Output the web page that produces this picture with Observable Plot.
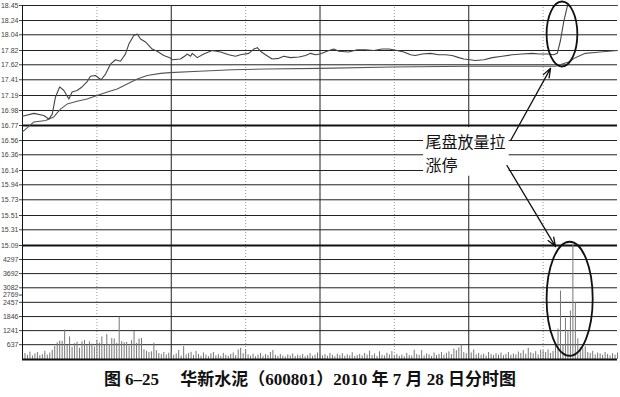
<!DOCTYPE html>
<html><head><meta charset="utf-8">
<script src="https://cdn.jsdelivr.net/npm/d3@7"></script>
<script src="https://cdn.jsdelivr.net/npm/@observablehq/plot@0.6"></script>
<style>
body{margin:0;background:#fff;}
#wrap{position:relative;width:620px;height:362px;}
#wrap svg{position:absolute;left:0;top:0;}
#cap{width:620px;height:35px;text-align:center;font-weight:bold;font-size:17px;font-family:"Liberation Serif","Noto Sans CJK SC",serif;line-height:36px;color:#111;white-space:pre;}
</style></head>
<body>
<div id="wrap"></div>
<div id="cap">图 6–25　 华新水泥（600801）2010 年 7 月 28 日分时图</div>
<script>
// ---- data ----
const priceMinutes = [0,4.6,8.6,10.6,12,13.3,15,16.7,18.7,20,22,24,26,27.4,29.4,31.7,33.5,35.5,37.5,39.5,41.5,42.9,44.9,46.3,47.6,49.6,52.3,54.3,57,59.4,60.4,63.7,65.8,66.4,67.8,68.5,70.5,73.1,76.5,79.9,83.2,85.9,87.9,91.3,93.3,94.7,96,98,100.7,103.4,105.4,108.1,111.5,114.2,116.2,118.2,120,123.6,125.6,127.6,131.6,135,138.4,141.7,145.1,147.8,151.1,153.8,156.5,158.5,161.2,164.6,167.9,170.6,173.3,176,178,180.4,182.7,186.1,189.5,193.5,197.5,201.6,205.6,208.3,211.7,214.3,215.7,217,218.3,219.7,220.2,230,240];
const priceValues = [16.90,16.94,16.91,16.86,16.93,17.17,17.31,17.26,17.14,17.24,17.26,17.31,17.38,17.46,17.47,17.41,17.49,17.63,17.69,17.67,17.77,17.91,18.03,18.05,17.98,17.94,17.84,17.81,17.75,17.72,17.69,17.70,17.75,17.77,17.74,17.78,17.72,17.77,17.82,17.80,17.76,17.74,17.76,17.78,17.84,17.86,17.81,17.76,17.70,17.71,17.74,17.72,17.73,17.75,17.78,17.76,17.77,17.82,17.84,17.81,17.80,17.83,17.83,17.82,17.84,17.84,17.82,17.80,17.76,17.75,17.77,17.78,17.76,17.76,17.75,17.72,17.70,17.69,17.68,17.69,17.72,17.74,17.76,17.77,17.78,17.77,17.77,17.76,17.78,17.96,18.22,18.43,18.45,18.45,18.45];
const avgMinutes = [0,4.6,9.3,12.6,15.3,18,22,26,30.1,34.2,38.2,42.2,46.3,50.3,55.7,59.4,71.1,84.6,98,119.9,149.1,180.3,215,217.7,220.3,223,227,233,240];
const avgValues = [16.68,16.82,16.84,16.89,17.00,17.07,17.11,17.14,17.19,17.24,17.28,17.35,17.42,17.47,17.50,17.51,17.53,17.55,17.56,17.57,17.59,17.60,17.60,17.63,17.66,17.72,17.78,17.80,17.82];
const volumes = [
 850,
 260,180,320,150,240,300,170,210,350,190,
 280,400,560,720,790,780,1270,600,970,520,
 680,740,480,760,820,590,760,660,540,830,
 700,970,620,1070,640,900,880,690,1820,770,
 720,730,580,810,1210,690,880,900,420,360,
 300,330,700,380,260,210,300,190,270,330,
 180,240,390,150,560,200,260,310,170,350,
 220,140,280,190,120,240,300,160,210,130,
 260,180,140,220,280,170,410,480,250,420,
 200,150,230,120,190,260,140,210,170,300,
 390,180,130,220,150,110,200,160,240,130,
 190,150,220,120,170,250,140,190,280,230,
 160,210,140,260,180,120,230,170,250,140,
 200,160,290,130,180,220,150,260,190,360,
 170,240,130,330,180,150,270,200,340,160,
 220,140,190,120,260,170,150,400,210,180,
 380,150,240,200,130,280,170,220,300,190,
 260,330,210,450,380,500,620,300,250,400,
 280,410,200,260,180,230,150,300,210,170,
 250,190,280,160,220,300,180,240,200,320,
 260,380,230,480,290,250,340,200,400,380,
 300,410,260,350,600,1310,2940,650,1770,1180,
 2090,4900,2440,890,520,460,550,300,260,350,
 200,280,240,180,300,220,160,250,190,280
];
const priceTicks = [18.45,18.24,18.04,17.82,17.62,17.41,17.19,16.98,16.77,16.56,16.36,16.14,15.94,15.73,15.51,15.31,15.09];
const volumeTicks = [4297,3692,3082,2769,2457,1846,1241,637];
const volumeGrid = [4297,3692,3082,2457,1846,1241,637];
const solidMinutes = [60,120,180];
const dottedMinutes = [30,90,150,210];
const noteLines = ["尾盘放量拉","涨停"];

// ---- tables ----
const price = priceMinutes.map((m,i)=>({m, p: priceValues[i]}));
const avg = avgMinutes.map((m,i)=>({m, p: avgValues[i]}));
const vol = volumes.map((v,i)=>({m: i, v}));
const notes = [{m:162.6, p:16.52, t:noteLines[0]},{m:162.6, p:16.21, t:noteLines[1]}];
const noteBox = [{x1:161.8, x2:196.3, y1:16.06, y2:16.74}];
const priceArrows = [
  {x1:196.9, y1:16.56, x2:213.0, y2:17.57},
  {x1:195.4, y1:16.21, x2:215.0, y2:15.075}
];

function ellipse(cx, cy, rx, ry){
  return (index, scales) => {
    const {x, y} = scales;
    const el = document.createElementNS("http://www.w3.org/2000/svg","ellipse");
    el.setAttribute("cx", x(cx));
    el.setAttribute("cy", y(cy));
    el.setAttribute("rx", Math.abs(x(cx+rx)-x(cx)));
    el.setAttribute("ry", Math.abs(y(cy+ry)-y(cy)));
    el.setAttribute("fill","none");
    el.setAttribute("stroke","#111");
    el.setAttribute("stroke-width","1.8");
    return el;
  };
}

const common = {
  width: 620, height: 362, marginLeft: 22, marginRight: 3,
  x: {domain: [0, 240], axis: null}
};

const pricePlot = Plot.plot({
  ...common, marginTop: 5, marginBottom: 117,
  style: {background: "white", overflow: "visible", fontSize: "7px", fontFamily: "Liberation Sans", color: "#444"},
  y: {domain: [15.09, 18.45], ticks: priceTicks, tickFormat: d => d.toFixed(2), tickSize: 3, tickPadding: 1, label: null},
  marks: [
    Plot.ruleX(dottedMinutes, {y1: 15.09, y2: 18.45, stroke: "#9a9a9a", strokeDasharray: "1,2"}),
    Plot.ruleX(solidMinutes, {y1: 15.09, y2: 18.45, stroke: "#222"}),
    Plot.ruleY(priceTicks.filter(d => d !== 16.77 && d !== 15.09), {stroke: "#222"}),
    Plot.ruleY([16.77, 15.09], {stroke: "#111", strokeWidth: 2}),
    Plot.ruleX([0], {y1: 15.09, y2: 18.45, stroke: "#111"}),
    Plot.line(avg, {x: "m", y: "p", stroke: "#555", strokeWidth: 1.1}),
    Plot.line(price, {x: "m", y: "p", stroke: "#444", strokeWidth: 1.1}),
    Plot.rect(noteBox, {x1: "x1", x2: "x2", y1: "y1", y2: "y2", fill: "white"}),
    Plot.text(notes, {x: "m", y: "p", text: "t", textAnchor: "start", fontSize: 16, fontFamily: "Noto Sans CJK SC", fill: "#111"}),
    Plot.arrow(priceArrows, {x1: "x1", y1: "y1", x2: "x2", y2: "y2", stroke: "#111", strokeWidth: 1.3, headLength: 11, headAngle: 40, bend: 0}),
    ellipse(217.8, 18.044, 6.2, 0.455)
  ]
});

const volumePlot = Plot.plot({
  ...common, marginTop: 245, marginBottom: 3,
  style: {background: "transparent", fontSize: "7px", fontFamily: "Liberation Sans", color: "#444"},
  y: {domain: [0, 4900], ticks: volumeTicks, tickFormat: d => String(d), tickSize: 3, tickPadding: 1, label: null},
  marks: [
    Plot.ruleX(dottedMinutes, {y1: 0, y2: 4900, stroke: "#9a9a9a", strokeDasharray: "1,2"}),
    Plot.ruleX(solidMinutes, {y1: 0, y2: 4900, stroke: "#222"}),
    Plot.ruleY(volumeGrid, {stroke: "#222"}),
    Plot.ruleX(vol, {x: "m", y1: 0, y2: "v", stroke: "#777", strokeWidth: 1}),
    Plot.ruleY([0], {stroke: "#111", strokeWidth: 2}),
    Plot.ruleX([0], {y1: 0, y2: 4900, stroke: "#111"}),
    ellipse(220.9, 2590, 9.3, 2450)
  ]
});

const wrap = document.getElementById("wrap");
wrap.appendChild(pricePlot);
wrap.appendChild(volumePlot);
</script>
</body></html>
